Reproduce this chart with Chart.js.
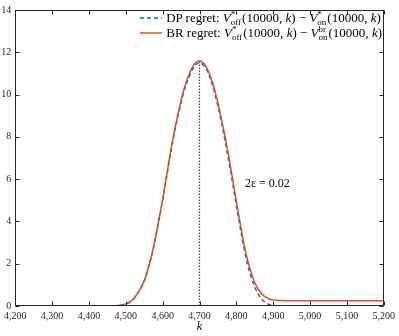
<!DOCTYPE html>
<html>
<head>
<meta charset="utf-8">
<script src="https://cdn.jsdelivr.net/npm/chart.js@4.4.1/dist/chart.umd.min.js"></script>
<style>
  body { margin: 0; background: #fff; }
  #wrap { position: relative; width: 399px; height: 336px; }
  #legend { position: absolute; right: 17px; top: 10px; font: 13px "Liberation Serif", serif; color: #000; }
  .row { height: 15.5px; white-space: nowrap; display: flex; align-items: center; }
  .row svg { margin-right: 4px; }
  .sup { display: inline-block; width: 0; position: relative; top: -5px; font-size: 9px; }
  .sub { display: inline-block; position: relative; top: 3px; font-size: 9px; margin-right: 1px; }
</style>
</head>
<body>
<div id="wrap">
  <canvas id="regretChart"></canvas>
  <div id="legend">
    <div class="row"><svg width="22" height="4"><line x1="0" y1="2" x2="22" y2="2" stroke="#0072BD" stroke-width="1.5" stroke-dasharray="4 3"/></svg><span>DP regret: <i>V</i><span class="sup">*</span><span class="sub">off</span>(10000, <i>k</i>) − <i>V</i><span class="sup">*</span><span class="sub">on</span>(10000, <i>k</i>)</span></div>
    <div class="row"><svg width="22" height="4"><line x1="0" y1="2" x2="22" y2="2" stroke="#D95319" stroke-width="1.5"/></svg><span>BR regret: <i>V</i><span class="sup">*</span><span class="sub">off</span>(10000, <i>k</i>) − <i>V</i><span class="sup">br</span><span class="sub">on</span>(10000, <i>k</i>)</span></div>
  </div>
</div>
<script>
// valeurs
const kValues = [4200, 4400, 4450, 4460, 4470, 4480, 4490, 4500, 4510, 4520, 4530, 4540, 4550, 4560, 4570, 4580, 4590, 4600,
  4610, 4620, 4630, 4640, 4650, 4660, 4670, 4680, 4690, 4700, 4710, 4720, 4730, 4740, 4750, 4760, 4770, 4780, 4790, 4800,
  4810, 4820, 4830, 4840, 4850, 4860, 4870, 4880, 4890, 4900, 4910, 4920, 4930, 4940, 4950, 5000, 5100, 5200];

const dpRegret = [0, 0, 0, 0.005, 0.01, 0.02, 0.045, 0.09, 0.17, 0.31, 0.53, 0.82, 1.17, 1.71, 2.36, 3.15, 4.05, 5.0,
  6.03, 7.06, 8.0, 8.85, 9.62, 10.27, 10.77, 11.17, 11.42, 11.5, 11.4, 11.15, 10.72, 10.15, 9.45, 8.65, 7.75, 6.8, 5.8, 4.75,
  3.75, 2.8, 2.0, 1.38, 0.9, 0.55, 0.3, 0.15, 0.07, 0.03, 0.01, 0, 0, 0, 0, 0, 0, 0];

const brRegret = [0, 0, 0, 0.005, 0.01, 0.02, 0.05, 0.1, 0.18, 0.32, 0.55, 0.85, 1.2, 1.75, 2.4, 3.2, 4.1, 5.05,
  6.1, 7.15, 8.1, 8.95, 9.72, 10.38, 10.88, 11.28, 11.52, 11.6, 11.5, 11.25, 10.85, 10.3, 9.6, 8.8, 7.95, 7.0, 6.0, 4.95,
  3.95, 3.0, 2.2, 1.6, 1.1, 0.78, 0.55, 0.42, 0.33, 0.29, 0.27, 0.26, 0.25, 0.25, 0.25, 0.25, 0.25, 0.25];

const markerK = [4700, 4700];
const markerY = [0, 11.6];

const xTicks = [4200, 4300, 4400, 4500, 4600, 4700, 4800, 4900, 5000, 5100, 5200];
const yTicks = [0, 2, 4, 6, 8, 10, 12, 14];

const noteText = '2ε = 0.02';
const notePos = [4884, 5.8];

const axisColor = '#262626';
const serif = '"Liberation Serif", serif';

function toPoints(xs, ys) {
  return xs.map((x, i) => ({ x: x, y: ys[i] }));
}

// cadre + graduations vers l'intérieur (style matlab)
const framePlugin = {
  id: 'frame',
  afterDraw(chart) {
    const ctx = chart.ctx;
    const a = chart.chartArea;
    const xs = chart.scales.x, ys = chart.scales.y;
    const L = Math.round(a.left) + 0.5, R = Math.round(a.right) - 0.5;
    const T = Math.round(a.top) + 0.5, B = Math.round(a.bottom) - 0.5;
    ctx.save();
    ctx.strokeStyle = axisColor;
    ctx.lineWidth = 1;
    ctx.strokeRect(L, T, R - L, B - T);
    ctx.beginPath();
    xTicks.forEach(v => {
      const px = Math.round(xs.getPixelForValue(v)) + 0.5;
      ctx.moveTo(px, B); ctx.lineTo(px, B - 4);
      ctx.moveTo(px, T); ctx.lineTo(px, T + 4);
    });
    yTicks.forEach(v => {
      const py = Math.round(ys.getPixelForValue(v)) + 0.5;
      ctx.moveTo(L, py); ctx.lineTo(L + 4, py);
      ctx.moveTo(R, py); ctx.lineTo(R - 4, py);
    });
    ctx.stroke();
    ctx.fillStyle = '#000';
    ctx.font = '12px ' + serif;
    ctx.textAlign = 'center';
    ctx.textBaseline = 'middle';
    ctx.fillText(noteText, xs.getPixelForValue(notePos[0]), ys.getPixelForValue(notePos[1]));
    ctx.restore();
  }
};

new Chart(document.getElementById('regretChart'), {
  type: 'line',
  data: {
    datasets: [
      {
        label: 'marker',
        data: toPoints(markerK, markerY),
        borderColor: '#444444',
        borderWidth: 1.2,
        borderDash: [1.5, 1.5],
        pointRadius: 0
      },
      {
        label: 'BR regret',
        data: toPoints(kValues, brRegret),
        borderColor: '#D95319',
        borderWidth: 1.5,
        pointRadius: 0,
        cubicInterpolationMode: 'monotone'
      },
      {
        label: 'DP regret',
        data: toPoints(kValues, dpRegret),
        borderColor: '#0072BD',
        borderWidth: 1.5,
        borderDash: [4, 3],
        pointRadius: 0,
        cubicInterpolationMode: 'monotone'
      }
    ]
  },
  options: {
    responsive: true,
    maintainAspectRatio: false,
    animation: false,
    layout: { padding: { top: 10, right: 14, left: 0, bottom: 0 } },
    plugins: {
      legend: { display: false },
      tooltip: { enabled: false }
    },
    scales: {
      x: {
        type: 'linear',
        min: 4200,
        max: 5200,
        afterFit: s => { s.height = 30; },
        afterBuildTicks: s => { s.ticks = xTicks.map(v => ({ value: v })); },
        grid: { display: false, drawTicks: false },
        border: { display: false },
        ticks: {
          padding: 4,
          maxRotation: 0,
          autoSkip: false,
          color: axisColor,
          font: { family: serif, size: 10 },
          callback: v => v.toLocaleString('en-US')
        },
        title: {
          display: true,
          text: 'k',
          color: '#000',
          font: { family: serif, size: 12, style: 'italic' },
          padding: { top: 0, bottom: 2 }
        }
      },
      y: {
        min: 0,
        max: 14,
        afterFit: s => { s.width = 15; },
        afterBuildTicks: s => { s.ticks = yTicks.map(v => ({ value: v })); },
        grid: { display: false, drawTicks: false },
        border: { display: false },
        ticks: {
          padding: 4,
          color: axisColor,
          font: { family: serif, size: 10 }
        }
      }
    }
  },
  plugins: [framePlugin]
});
</script>
</body>
</html>
